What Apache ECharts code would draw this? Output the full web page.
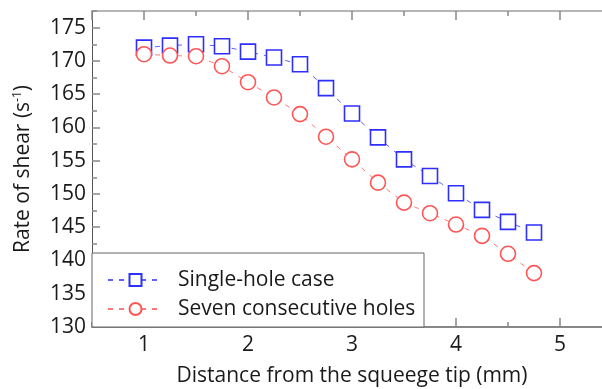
<!DOCTYPE html>
<html>
<head>
<meta charset="utf-8">
<script src="https://cdn.jsdelivr.net/npm/echarts@6/dist/echarts.min.js"></script>
<style>
  html, body { margin: 0; padding: 0; background: #fff; }
  #chart { width: 602px; height: 389px; }
</style>
</head>
<body>
<div id="chart"></div>
<script>
// distance from the squeegee tip (mm)
var distances = [1, 1.25, 1.5, 1.75, 2, 2.25, 2.5, 2.75, 3, 3.25, 3.5, 3.75, 4, 4.25, 4.5, 4.75];
// rate of shear (1/s)
var singleHole = [172.0, 172.3, 172.5, 172.2, 171.4, 170.5, 169.5, 165.9, 162.1, 158.5, 155.2, 152.7, 150.1, 147.6, 145.8, 144.2];
var sevenHoles = [171.0, 170.8, 170.7, 169.2, 166.8, 164.5, 162.0, 158.6, 155.2, 151.7, 148.7, 147.1, 145.4, 143.7, 141.0, 138.1];
var seriesNames = ['Single-hole case', 'Seven consecutive holes'];

function pairs(ys) {
    return distances.map(function (x, i) { return [x, ys[i]]; });
}

var FONT = 'Open Sans';
var FS = 21;
var chart = echarts.init(document.getElementById('chart'));

// one x axis: either the labelled one or a helper for ticks only
function xAxisDef(pos, interval, tickLen, withLabels, lineColor) {
    var ax = {
        type: 'value',
        position: pos,
        min: 0.5,
        max: 5.5,
        splitLine: { show: false },
        axisLine: { show: lineColor != null, lineStyle: { color: lineColor, width: 2 } },
        axisTick: { inside: true, length: tickLen, lineStyle: { color: '#888', width: 1.5 } },
        axisLabel: { show: false }
    };
    if (interval) ax.interval = interval;
    if (withLabels) {
        ax.axisLabel = {
            show: true, showMinLabel: false, showMaxLabel: false,
            color: '#1a1a1a', fontFamily: FONT, fontSize: FS, margin: 8
        };
        ax.name = 'Distance from the squeege tip (mm)';
        ax.nameLocation = 'middle';
        ax.nameGap = 39;
        ax.nameTextStyle = { color: '#1a1a1a', fontFamily: FONT, fontSize: FS };
    }
    return ax;
}

var option = {
    animation: false,
    grid: { left: 92, top: 11, width: 520, height: 316, containLabel: false, outerBoundsMode: 'none' },
    xAxis: [
        xAxisDef('bottom', null, 9, true, '#888'),
        xAxisDef('bottom', 0.5, 5, false, null),
        xAxisDef('top', null, 9, false, '#b5b5b5'),
        xAxisDef('top', 0.5, 5, false, null)
    ],
    yAxis: [
        {
            type: 'value',
            position: 'left',
            min: 130,
            max: 177.5,
            interval: 5,
            splitLine: { show: false },
            axisLine: { show: true, lineStyle: { color: '#555', width: 1 } },
            axisTick: { inside: true, length: 8, lineStyle: { color: '#888', width: 1.5 } },
            axisLabel: { showMaxLabel: false, color: '#1a1a1a', fontFamily: FONT, fontSize: FS, margin: 6 },
            name: '{t|Rate of shear (s}{s|-1}{t|)}',
            nameLocation: 'middle',
            nameGap: 57,
            nameTextStyle: {
                rich: {
                    t: { color: '#1a1a1a', fontFamily: FONT, fontSize: FS },
                    s: { color: '#1a1a1a', fontFamily: FONT, fontSize: 12, padding: [0, 0, 11, 0] }
                }
            }
        },
        {
            type: 'value',
            position: 'left',
            min: 130,
            max: 177.5,
            interval: 2.5,
            splitLine: { show: false },
            axisLine: { show: false },
            axisTick: { inside: true, length: 5, lineStyle: { color: '#888', width: 1.5 } },
            axisLabel: { show: false }
        }
    ],
    graphic: [
        {
            type: 'rect',
            z: 3,
            shape: { x: 92, y: 253, width: 332, height: 74 },
            style: { fill: '#fff', stroke: '#666', lineWidth: 1 }
        }
    ],
    legend: {
        orient: 'vertical',
        left: 107,
        top: 269,
        z: 5,
        padding: 0,
        itemWidth: 55,
        itemHeight: 15,
        itemGap: 7,
        data: seriesNames,
        textStyle: { color: '#1a1a1a', fontFamily: FONT, fontSize: FS, lineHeight: 22, padding: [0, 0, 0, 10] }
    },
    series: [
        {
            name: seriesNames[0],
            type: 'line',
            data: pairs(singleHole),
            symbol: 'rect',
            symbolSize: 15,
            z: 2,
            itemStyle: { color: '#fff', borderColor: '#2e2eff', borderWidth: 1.6 },
            lineStyle: { color: '#6060ff', width: 1, type: [5, 6] }
        },
        {
            name: seriesNames[1],
            type: 'line',
            data: pairs(sevenHoles),
            symbol: 'circle',
            symbolSize: 15,
            z: 2,
            itemStyle: { color: '#fff', borderColor: '#ff5555', borderWidth: 1.6 },
            lineStyle: { color: '#ff7777', width: 1, type: [5, 6] }
        }
    ]
};

chart.setOption(option);
</script>
</body>
</html>
